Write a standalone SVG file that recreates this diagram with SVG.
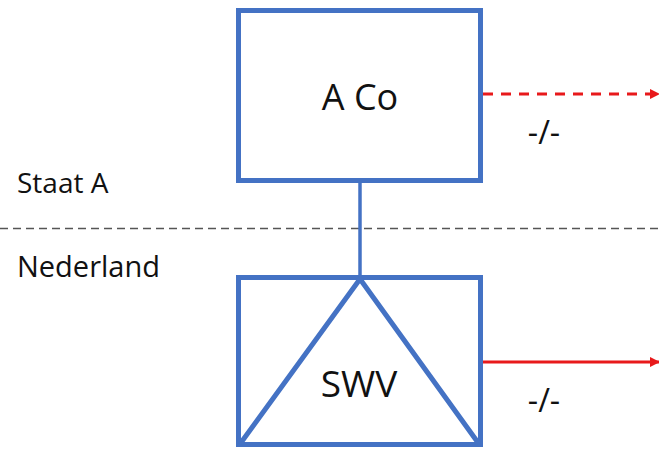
<svg xmlns="http://www.w3.org/2000/svg" width="659" height="449" viewBox="0 0 659 449">
<style>
.node{fill:none;stroke:#4472C4;stroke-width:5}
.lbl{font-family:"Open Sans","Liberation Sans",sans-serif;fill:#111}
.red{stroke:#E8191B;stroke-width:3;fill:none}
</style>
<defs>
<marker id="ah" viewBox="0 0 10 10" refX="9" refY="5" markerWidth="3.5" markerHeight="3.5" orient="auto" markerUnits="strokeWidth">
<path d="M0,0 L10,5 L0,10 Z" fill="#E8191B"/>
</marker>
</defs>
<rect width="659" height="449" fill="#fff"/>
<line x1="0" y1="228.5" x2="659" y2="228.5" stroke="#555" stroke-width="1.6" stroke-dasharray="8,5"/>
<text class="lbl" x="17" y="193" font-size="28">Staat A</text>
<text class="lbl" x="17" y="277" font-size="29">Nederland</text>
<g id="connectors">
<line x1="360" y1="183" x2="360" y2="276" stroke="#4472C4" stroke-width="3.5"/>
<line class="red" x1="483" y1="94" x2="659" y2="94" stroke-dasharray="10,8" marker-end="url(#ah)"/>
<line class="red" x1="483" y1="362" x2="659" y2="362" marker-end="url(#ah)"/>
<text class="lbl" x="544" y="144" font-size="32" text-anchor="middle">-/-</text>
<text class="lbl" x="544" y="412" font-size="32" text-anchor="middle">-/-</text>
</g>
<g id="aco">
<rect class="node" x="238.5" y="10.5" width="242" height="170"/>
<text class="lbl" x="360" y="110" font-size="36" text-anchor="middle">A Co</text>
</g>
<g id="swv">
<rect class="node" x="238.5" y="277.5" width="242" height="167"/>
<path class="node" d="M240,444 L360,279 L479,444" stroke-linejoin="round"/>
<text class="lbl" x="359" y="397" font-size="37" text-anchor="middle">SWV</text>
</g>
</svg>
